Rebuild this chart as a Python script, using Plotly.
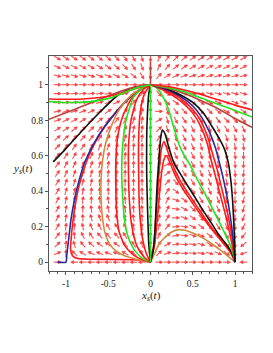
import math
import plotly.graph_objects as go

# ---------------- direction field ----------------
grid_x = [-1.1, -1.0, -0.9, -0.8, -0.7, -0.6, -0.5, -0.4, -0.3, -0.2, -0.1, 0.0,
          0.1, 0.2, 0.3, 0.4, 0.5, 0.6, 0.7, 0.8, 0.9, 1.0, 1.1]
grid_y = [0.0, 0.05, 0.1, 0.15, 0.2, 0.25, 0.3, 0.35, 0.4, 0.45, 0.5, 0.55,
          0.6, 0.65, 0.7, 0.75, 0.8, 0.85, 0.9, 0.95, 1.0, 1.05, 1.1, 1.15]
# arrow angle (degrees on screen, 0 = right, 90 = up) per column, bottom to top
d_m11 = [0, 25, 45, 55, 60, 62, 62, 62, 61, 59, 56, 52, 47, 45, 40, 32, 21, 12, 2, 1, 0, -14, -25, -30]
d_m10 = [None, 88, 87, 86, 85, 82, 80, 77, 74, 70, 66, 61, 56, 50, 42, 34, 27, 18, 6, 3, 0, -15, -26, -32]
d_m09 = [180, 135, 105, 95, 88, 85, 82, 79, 76, 73, 70, 65, 60, 55, 48, 40, 30, 19, 7, 4, 0, -16, -28, -34]
d_m08 = [180, 150, 130, 115, 102, 93, 87, 83, 79, 75, 70, 65, 60, 54, 48, 41, 32, 21, 9, 5, 0, -17, -29, -36]
d_m07 = [180, 155, 138, 124, 112, 103, 96, 90, 85, 80, 75, 70, 64, 58, 52, 45, 36, 24, 11, 6, 0, -18, -31, -38]
d_m06 = [180, 158, 143, 130, 118, 108, 100, 94, 89, 84, 80, 75, 70, 64, 57, 49, 40, 28, 14, 7, 0, -20, -33, -40]
d_m05 = [180, 160, 146, 133, 121, 111, 103, 97, 92, 88, 84, 80, 75, 69, 62, 54, 45, 33, 18, 9, 0, -22, -36, -43]
d_m04 = [180, 160, 145, 132, 121, 112, 105, 99, 95, 91, 88, 84, 80, 75, 69, 62, 53, 41, 25, 12, 0, -25, -40, -47]
d_m03 = [180, 150, 135, 122, 112, 104, 99, 95, 93, 91, 89, 87, 84, 80, 76, 70, 62, 51, 35, 17, 0, -30, -46, -53]
d_m02 = [180, 140, 122, 110, 103, 99, 96, 94, 93, 92, 91, 89, 87, 85, 82, 78, 72, 63, 48, 27, 0, -40, -55, -62]
d_m01 = [180, 118, 106, 100, 97, 95, 94, 93, 92, 91, 91, 90, 89, 88, 86, 84, 81, 76, 66, 45, 0, -58, -70, -75]
d_p00 = [None, 90, 90, 90, 90, 90, 90, 90, 90, 90, 90, 90, 90, 90, 90, 90, 90, 90, 90, 90, None, -90, -90, -90]
d_p01 = [0, 45, 60, 68, 74, 78, 82, 81, 80, 78, 77, 72, 68, 62, 55, 45, 30, 0, -55, -50, 0, 50, 65, 70]
d_p02 = [0, 20, 30, 40, 50, 58, 62, 62, 58, 50, 40, 22, 0, -40, -65, -72, -74, -70, -50, -28, 0, 32, 50, 55]
d_p03 = [0, 8, 10, 10, 5, 0, -8, -20, -38, -50, -57, -62, -66, -68, -70, -68, -62, -52, -35, -18, 0, 24, 40, 45]
d_p04 = [0, 0, -3, -7, -10, -20, -30, -38, -45, -52, -57, -60, -62, -63, -63, -60, -55, -45, -33, -16, 0, 20, 35, 40]
d_p05 = [0, -3, -8, -18, -27, -35, -43, -50, -56, -60, -62, -64, -65, -66, -66, -64, -58, -45, -32, -14, 0, 18, 32, 36]
d_p06 = [0, -10, -18, -28, -40, -50, -56, -60, -62, -65, -67, -70, -72, -74, -74, -70, -62, -48, -30, -13, 0, 17, 30, 34]
d_p07 = [0, -15, -32, -40, -48, -55, -60, -63, -66, -69, -72, -75, -77, -78, -77, -72, -62, -46, -28, -13, 0, 16, 29, 32]
d_p08 = [0, -22, -38, -50, -57, -62, -66, -69, -72, -75, -78, -80, -81, -80, -76, -68, -55, -40, -25, -14, 0, 15, 28, 31]
d_p09 = [0, -38, -55, -63, -68, -71, -74, -76, -78, -80, -82, -83, -82, -78, -70, -57, -43, -30, -20, -14, 0, 15, 27, 30]
d_p10 = [None, -90, -90, -89, -89, -88, -88, -88, -88, -87, -86, -85, -83, -79, -72, -60, -46, -32, -22, -15, 0, 14, 27, 30]
d_p11 = [180, -160, -140, -126, -117, -111, -106, -103, -100, -98, -96, -93, -90, -84, -76, -64, -50, -36, -25, -17, 0, 14, 27, 30]
dir_columns = [d_m11, d_m10, d_m09, d_m08, d_m07, d_m06, d_m05, d_m04, d_m03, d_m02, d_m01, d_p00,
               d_p01, d_p02, d_p03, d_p04, d_p05, d_p06, d_p07, d_p08, d_p09, d_p10, d_p11]

# ---------------- trajectories ----------------
# left half
gL1_x = [-1.2, -1.0, -0.8, -0.6, -0.45, -0.3, -0.15, 0.0]
gL1_y = [0.905, 0.9, 0.902, 0.912, 0.93, 0.958, 0.985, 1.0]
rL1_x = [-1.2, -1.0, -0.8, -0.6, -0.4, -0.2, 0.0]
rL1_y = [0.92, 0.918, 0.92, 0.928, 0.945, 0.975, 1.0]
nL_x = [-1.2, -1.0, -0.8, -0.6, -0.4, -0.2, 0.0]
nL_y = [0.805, 0.842, 0.88, 0.918, 0.955, 0.985, 1.0]
kL1_x = [-1.15, -1.0, -0.8, -0.6, -0.4, -0.2, 0.0]
kL1_y = [0.565, 0.64, 0.745, 0.845, 0.935, 0.985, 1.0]
bL_x = [-1.1, -1.0, -0.99, -0.97, -0.94, -0.9, -0.85, -0.78, -0.68, -0.55, -0.4, -0.25, -0.12, 0.0]
bL_y = [0.0, 0.0, 0.04, 0.12, 0.24, 0.35, 0.45, 0.56, 0.66, 0.76, 0.85, 0.925, 0.975, 1.0]
rL2_x = [0.0, -0.15, -0.4, -0.7, -0.86, -0.92, -0.945, -0.94, -0.92, -0.89, -0.85, -0.79, -0.71, -0.6, -0.45, -0.28, -0.13, 0.0]
rL2_y = [0.0, 0.012, 0.015, 0.016, 0.02, 0.035, 0.07, 0.12, 0.22, 0.32, 0.42, 0.52, 0.62, 0.72, 0.82, 0.915, 0.97, 1.0]
oL_x = [0.0, -0.1, -0.2, -0.3, -0.4, -0.48, -0.54, -0.57, -0.585, -0.585, -0.57, -0.53, -0.46, -0.37, -0.25, -0.12, 0.0]
oL_y = [0.0, 0.008, 0.02, 0.035, 0.06, 0.1, 0.17, 0.26, 0.36, 0.46, 0.56, 0.67, 0.77, 0.86, 0.93, 0.975, 1.0]
rI1_x = [0.0, -0.1, -0.2, -0.3, -0.37, -0.4, -0.41, -0.41, -0.39, -0.33, -0.22, -0.1, 0.0]
rI1_y = [0.0, 0.015, 0.04, 0.09, 0.17, 0.28, 0.42, 0.56, 0.7, 0.82, 0.925, 0.978, 1.0]
gI_x = [0.0, -0.1, -0.2, -0.27, -0.31, -0.33, -0.34, -0.33, -0.29, -0.2, -0.1, 0.0]
gI_y = [0.0, 0.022, 0.075, 0.15, 0.25, 0.38, 0.5, 0.65, 0.8, 0.93, 0.98, 1.0]
rI2_x = [0.0, -0.08, -0.16, -0.22, -0.25, -0.26, -0.26, -0.23, -0.16, -0.08, 0.0]
rI2_y = [0.0, 0.03, 0.09, 0.2, 0.35, 0.5, 0.65, 0.8, 0.92, 0.975, 1.0]
rI3_x = [0.0, -0.05, -0.1, -0.13, -0.14, -0.14, -0.12, -0.07, 0.0]
rI3_y = [0.0, 0.05, 0.15, 0.3, 0.5, 0.7, 0.85, 0.95, 1.0]
kI_x = [0.0, -0.02, -0.035, -0.045, -0.045, -0.035, -0.02, 0.0]
kI_y = [0.0, 0.1, 0.3, 0.5, 0.7, 0.85, 0.95, 1.0]
gV_x = [0.0, 0.0]
gV_y = [0.0, 1.0]
nV_x = [0.0, 0.0]
nV_y = [1.0, 1.13]
# right half
kR_x = [0.0, 0.03, 0.05, 0.065, 0.08, 0.1, 0.12, 0.14, 0.17, 0.22, 0.28, 0.35, 0.42, 0.52, 0.63, 0.72, 0.8, 0.88, 0.94, 0.98, 1.0]
kR_y = [0.0, 0.06, 0.16, 0.3, 0.45, 0.58, 0.7, 0.745, 0.725, 0.64, 0.555, 0.5, 0.445, 0.37, 0.285, 0.22, 0.16, 0.11, 0.07, 0.03, 0.0]
rR1_x = [0.0, 0.04, 0.07, 0.1, 0.13, 0.16, 0.2, 0.26, 0.34, 0.45, 0.57, 0.7, 0.82, 0.92, 0.98, 1.0]
rR1_y = [0.0, 0.1, 0.3, 0.5, 0.64, 0.68, 0.63, 0.55, 0.47, 0.385, 0.3, 0.21, 0.135, 0.075, 0.03, 0.0]
rR2_x = [0.0, 0.05, 0.09, 0.13, 0.16, 0.19, 0.23, 0.3, 0.4, 0.5, 0.62, 0.75, 0.87, 0.95, 1.0]
rR2_y = [0.0, 0.1, 0.3, 0.5, 0.58, 0.6, 0.56, 0.48, 0.4, 0.33, 0.25, 0.17, 0.1, 0.05, 0.0]
oR_x = [0.0, 0.05, 0.1, 0.17, 0.25, 0.33, 0.42, 0.52, 0.62, 0.72, 0.82, 0.9, 0.96, 1.0]
oR_y = [0.0, 0.05, 0.1, 0.14, 0.17, 0.183, 0.178, 0.16, 0.135, 0.105, 0.07, 0.04, 0.015, 0.0]
gR_x = [0.0, 0.08, 0.15, 0.22, 0.28, 0.34, 0.4, 0.46, 0.55, 0.65, 0.75, 0.85, 0.93, 0.98, 1.0]
gR_y = [1.0, 0.98, 0.93, 0.85, 0.75, 0.66, 0.6, 0.555, 0.47, 0.38, 0.285, 0.19, 0.11, 0.04, 0.0]
rO1_x = [0.0, 0.15, 0.35, 0.5, 0.6, 0.68, 0.74, 0.79, 0.84, 0.9, 0.95, 0.985, 1.0]
rO1_y = [1.0, 0.975, 0.925, 0.86, 0.79, 0.7, 0.6, 0.52, 0.42, 0.3, 0.18, 0.07, 0.0]
rO2_x = [0.0, 0.15, 0.35, 0.5, 0.6, 0.67, 0.72, 0.77, 0.83, 0.9, 0.96, 1.0]
rO2_y = [1.0, 0.97, 0.91, 0.84, 0.76, 0.67, 0.57, 0.48, 0.37, 0.24, 0.11, 0.0]
bR_x = [0.0, 0.15, 0.35, 0.5, 0.6, 0.7, 0.77, 0.82, 0.87, 0.92, 0.96, 0.985, 1.0]
bR_y = [1.0, 0.98, 0.935, 0.88, 0.82, 0.73, 0.64, 0.55, 0.45, 0.33, 0.2, 0.09, 0.0]
kO_x = [0.0, 0.15, 0.35, 0.5, 0.625, 0.72, 0.82, 0.88, 0.92, 0.95, 0.97, 0.985, 0.995, 1.0]
kO_y = [1.0, 0.985, 0.944, 0.9, 0.84, 0.77, 0.69, 0.63, 0.56, 0.46, 0.35, 0.22, 0.1, 0.0]
rF_x = [0.0, 0.2, 0.4, 0.6, 0.8, 1.0, 1.2]
rF_y = [1.0, 0.99, 0.97, 0.945, 0.915, 0.885, 0.858]
gF_x = [0.0, 0.2, 0.4, 0.6, 0.8, 1.0, 1.2]
gF_y = [1.0, 0.985, 0.96, 0.925, 0.89, 0.855, 0.818]
nF_x = [0.0, 0.2, 0.4, 0.6, 0.8, 1.0, 1.2]
nF_y = [1.0, 0.98, 0.95, 0.91, 0.865, 0.81, 0.76]

RED = "#ff1a1a"
GREEN = "#1ee61e"
BLACK = "#111111"
BLUE = "#2a2a9c"
ORANGE = "#d08a40"
BROWN = "#b8443f"

curves = [
    (rL2_x, rL2_y, RED), (bL_x, bL_y, BLUE), (oL_x, oL_y, ORANGE),
    (rI1_x, rI1_y, RED), (gI_x, gI_y, GREEN), (rI2_x, rI2_y, RED),
    (rI3_x, rI3_y, RED), (kI_x, kI_y, BLACK),
    (kL1_x, kL1_y, BLACK), (nL_x, nL_y, BROWN), (rL1_x, rL1_y, RED), (gL1_x, gL1_y, GREEN),
    (oR_x, oR_y, ORANGE), (rR2_x, rR2_y, RED), (rR1_x, rR1_y, RED), (kR_x, kR_y, BLACK),
    (gR_x, gR_y, GREEN), (rO2_x, rO2_y, RED), (rO1_x, rO1_y, RED), (bR_x, bR_y, BLUE),
    (kO_x, kO_y, BLACK), (nF_x, nF_y, BROWN), (gF_x, gF_y, GREEN), (rF_x, rF_y, RED),
    (nV_x, nV_y, BROWN), (gV_x, gV_y, GREEN),
]

# ---------------- layout geometry ----------------
# (the page body adds an 8 px margin at the top-left)
W, H = 265, 345
ML, MR, MT, MB = 41, 21, 48, 82
XR = [-1.2, 1.2]
YR = [-0.05, 1.162]
sx = (W - ML - MR) / (XR[1] - XR[0])   # px per x unit
sy = (H - MT - MB) / (YR[1] - YR[0])   # px per y unit

L_ARROW = 7.6
HEAD_L = 3.0
HEAD_W = 3.2

shaft_x, shaft_y, head_x, head_y = [], [], [], []
for i, xv in enumerate(grid_x):
    col = dir_columns[i]
    assert len(col) == len(grid_y)
    for j, yv in enumerate(grid_y):
        ang = col[j]
        if ang is None:
            continue
        a = math.radians(ang)
        ux, uy = math.cos(a), math.sin(a)
        nx, ny = -uy, ux
        tx, ty = -0.5 * L_ARROW * ux, -0.5 * L_ARROW * uy
        px_, py_ = 0.5 * L_ARROW * ux, 0.5 * L_ARROW * uy
        bx, by = px_ - HEAD_L * ux, py_ - HEAD_L * uy
        shaft_x += [xv + tx / sx, xv + bx / sx, None]
        shaft_y += [yv + ty / sy, yv + by / sy, None]
        head_x += [xv + px_ / sx, xv + (bx + 0.5 * HEAD_W * nx) / sx,
                   xv + (bx - 0.5 * HEAD_W * nx) / sx, xv + px_ / sx, None]
        head_y += [yv + py_ / sy, yv + (by + 0.5 * HEAD_W * ny) / sy,
                   yv + (by - 0.5 * HEAD_W * ny) / sy, yv + py_ / sy, None]

fig = go.Figure()
fig.add_trace(go.Scatter(x=shaft_x, y=shaft_y, mode="lines",
                         line=dict(color="rgba(255,20,20,0.75)", width=1.1),
                         hoverinfo="skip", showlegend=False))
fig.add_trace(go.Scatter(x=head_x, y=head_y, mode="lines", fill="toself",
                         fillcolor="rgba(255,20,20,0.8)",
                         line=dict(color="rgba(255,20,20,0.8)", width=0.5),
                         hoverinfo="skip", showlegend=False))
for cx, cy, colr in curves:
    fig.add_trace(go.Scatter(x=cx, y=cy, mode="lines",
                             line=dict(color=colr, width=1.6, shape="spline", smoothing=0.6),
                             hoverinfo="skip", showlegend=False))

x_ticks = [-1, -0.5, 0, 0.5, 1]
x_ticktext = ["-1", "-0.5", "0", "0.5", "1"]
y_ticks = [0, 0.2, 0.4, 0.6, 0.8, 1]
y_ticktext = ["0", "0.2", "0.4", "0.6", "0.8", "1"]

FONT = "Liberation Serif, Times New Roman, serif"
fig.update_layout(
    width=W, height=H,
    margin=dict(l=ML, r=MR, t=MT, b=MB),
    paper_bgcolor="white", plot_bgcolor="white",
    font=dict(family=FONT, size=10, color="#222"),
    xaxis=dict(range=XR, showgrid=False, zeroline=False,
               tickvals=x_ticks, ticktext=x_ticktext,
               ticks="outside", ticklen=3, tickcolor="#555", tickwidth=1,
               minor=dict(dtick=0.1, tick0=0, ticks="outside", ticklen=2, tickcolor="#555"),
               showline=True, linecolor="#555", linewidth=1.2, mirror=True,
               tickfont=dict(family=FONT, size=9.5, color="#222")),
    yaxis=dict(range=YR, showgrid=False, zeroline=False,
               tickvals=y_ticks, ticktext=y_ticktext,
               ticks="outside", ticklen=3, tickcolor="#555", tickwidth=1,
               minor=dict(dtick=0.1, tick0=0, ticks="outside", ticklen=2, tickcolor="#555"),
               showline=True, linecolor="#555", linewidth=1.2, mirror=True,
               tickfont=dict(family=FONT, size=9.5, color="#222")),
    annotations=[
        dict(text="<i>x</i><sub><i>s</i></sub>(<i>t</i>)", xref="paper", yref="paper",
             x=0.5, y=-0.118, xanchor="center", yanchor="middle", showarrow=False,
             font=dict(family=FONT, size=11, color="#222")),
        dict(text="<i>y</i><sub><i>s</i></sub>(<i>t</i>)", xref="paper", yref="paper",
             x=-0.128, y=0.475, xanchor="center", yanchor="middle", showarrow=False,
             font=dict(family=FONT, size=11, color="#222")),
    ],
)

fig.write_html("out.html")
